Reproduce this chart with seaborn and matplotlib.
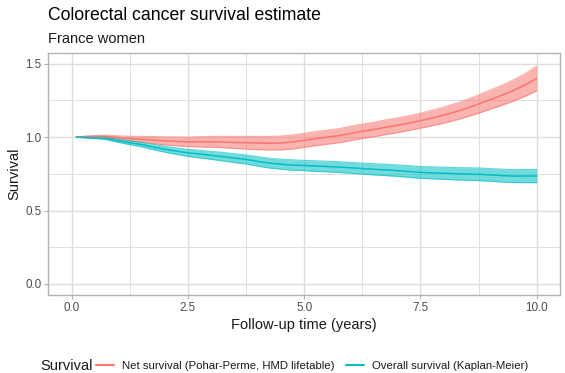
import matplotlib
matplotlib.use("Agg")
import matplotlib.pyplot as plt
from matplotlib.lines import Line2D
import seaborn as sns
import pandas as pd
import numpy as np

# ---- data ----
time = [0.1, 0.25, 0.5, 0.75, 1.0, 1.25, 1.5, 1.75, 2.0, 2.25, 2.5, 2.75, 3.0, 3.25,
        3.5, 3.75, 4.0, 4.25, 4.5, 4.75, 5.0, 5.25, 5.5, 5.75, 6.0, 6.25, 6.5, 6.75,
        7.0, 7.25, 7.5, 7.75, 8.0, 8.25, 8.5, 8.75, 9.0, 9.25, 9.5, 9.75, 10.0]

net_est = [1.000, 1.003, 1.005, 1.005, 0.997, 0.990, 0.985, 0.980, 0.975, 0.971, 0.968,
           0.968, 0.968, 0.967, 0.964, 0.962, 0.960, 0.959, 0.960, 0.967, 0.978, 0.990,
           1.000, 1.010, 1.025, 1.040, 1.052, 1.067, 1.080, 1.095, 1.112, 1.130, 1.150,
           1.172, 1.197, 1.225, 1.255, 1.285, 1.318, 1.355, 1.400]
net_lo = [1.000, 1.000, 0.999, 0.997, 0.985, 0.974, 0.965, 0.956, 0.948, 0.941, 0.936,
          0.933, 0.931, 0.928, 0.923, 0.919, 0.915, 0.913, 0.913, 0.919, 0.930, 0.942,
          0.952, 0.962, 0.976, 0.991, 1.003, 1.017, 1.030, 1.045, 1.061, 1.077, 1.095,
          1.115, 1.138, 1.163, 1.190, 1.217, 1.246, 1.278, 1.316]
net_hi = [1.000, 1.006, 1.011, 1.013, 1.009, 1.006, 1.005, 1.004, 1.002, 1.001, 1.000,
          1.003, 1.005, 1.006, 1.005, 1.005, 1.005, 1.005, 1.007, 1.015, 1.026, 1.038,
          1.048, 1.058, 1.074, 1.089, 1.101, 1.117, 1.130, 1.145, 1.163, 1.183, 1.205,
          1.229, 1.256, 1.287, 1.320, 1.353, 1.390, 1.432, 1.484]

os_est = [1.000, 0.998, 0.995, 0.990, 0.975, 0.962, 0.950, 0.933, 0.918, 0.905, 0.893,
          0.885, 0.876, 0.867, 0.857, 0.848, 0.835, 0.823, 0.816, 0.810, 0.807, 0.803,
          0.800, 0.796, 0.791, 0.786, 0.781, 0.777, 0.772, 0.766, 0.760, 0.757, 0.754,
          0.751, 0.749, 0.747, 0.743, 0.738, 0.735, 0.735, 0.735]
os_lo = [1.000, 0.996, 0.991, 0.983, 0.965, 0.949, 0.935, 0.915, 0.898, 0.883, 0.869,
         0.859, 0.849, 0.838, 0.827, 0.817, 0.803, 0.790, 0.782, 0.775, 0.772, 0.767,
         0.764, 0.759, 0.754, 0.748, 0.743, 0.738, 0.733, 0.726, 0.720, 0.716, 0.713,
         0.709, 0.707, 0.704, 0.700, 0.694, 0.691, 0.690, 0.690]
os_hi = [1.000, 1.000, 0.999, 0.997, 0.985, 0.975, 0.965, 0.951, 0.938, 0.927, 0.917,
         0.911, 0.903, 0.896, 0.887, 0.879, 0.867, 0.856, 0.850, 0.845, 0.842, 0.839,
         0.836, 0.833, 0.828, 0.824, 0.819, 0.816, 0.811, 0.806, 0.800, 0.798, 0.795,
         0.793, 0.791, 0.790, 0.786, 0.782, 0.779, 0.780, 0.780]

series_names = ["Net survival (Pohar-Perme, HMD lifetable)", "Overall survival (Kaplan-Meier)"]
colors = ["#F8766D", "#00BFC4"]

x_ticks = [0.0, 2.5, 5.0, 7.5, 10.0]
y_ticks = [0.0, 0.5, 1.0, 1.5]

df = pd.DataFrame({
    "time": time + time,
    "est": net_est + os_est,
    "lo": net_lo + os_lo,
    "hi": net_hi + os_hi,
    "Survival": [series_names[0]] * len(time) + [series_names[1]] * len(time),
})

# ---- figure ----
sns.set_theme(style="white")
plt.rcParams["font.family"] = ["Liberation Sans", "DejaVu Sans"]

fig = plt.figure(figsize=(5.65, 3.73), dpi=100)
ax = fig.add_axes([48.3 / 565, 1 - 295 / 373, (560 - 48.3) / 565, (295 - 52.7) / 373])

# grid
grid_c = "#DEDEDE"
for v in [1.25, 3.75, 6.25, 8.75]:
    ax.axvline(v, color=grid_c, lw=0.7, zorder=0)
for v in [0.25, 0.75, 1.25]:
    ax.axhline(v, color=grid_c, lw=0.7, zorder=0)
for v in x_ticks:
    ax.axvline(v, color=grid_c, lw=1.0, zorder=0)
for v in y_ticks:
    ax.axhline(v, color=grid_c, lw=1.0, zorder=0)

for name, c in zip(series_names, colors):
    sub = df[df["Survival"] == name]
    ax.fill_between(sub["time"], sub["lo"], sub["hi"],
                    color=c, alpha=0.55, lw=0, zorder=2)
    ax.plot(sub["time"], sub["lo"], color=c, lw=0.8, alpha=0.6, zorder=2)
    ax.plot(sub["time"], sub["hi"], color=c, lw=0.8, alpha=0.6, zorder=2)

sns.lineplot(data=df, x="time", y="est", hue="Survival", palette=colors,
             hue_order=series_names, lw=1.1,
             ax=ax, legend=False, zorder=3, estimator=None)

ax.set_xlim(-0.5, 10.5)
ax.set_ylim(-0.075, 1.575)
ax.set_xticks(x_ticks)
ax.set_xticklabels([f"{v:.1f}" for v in x_ticks])
ax.set_yticks(y_ticks)
ax.set_yticklabels([f"{v:.1f}" for v in y_ticks])
ax.tick_params(axis="both", length=3, width=0.8, color="#B3B3B3",
               labelsize=8.4, labelcolor="#4D4D4D", pad=2, bottom=True, left=True)
for s in ax.spines.values():
    s.set_color("#B3B3B3")
    s.set_linewidth(1.0)

ax.set_xlabel("Follow-up time (years)", fontsize=10.5, color="#1A1A1A", labelpad=3)
ax.set_ylabel("Survival", fontsize=10.5, color="#1A1A1A", labelpad=3)

fig.text(48.3 / 565, 1 - 16 / 373, "Colorectal cancer survival estimate",
         fontsize=12.7, color="#000000", ha="left", va="center")
fig.text(48.3 / 565, 1 - 39 / 373, "France women",
         fontsize=10.5, color="#1A1A1A", ha="left", va="center")

# legend
fig.text(40 / 565, 1 - 366 / 373, "Survival", fontsize=10.5, color="#1A1A1A",
         ha="left", va="center")
handles = [Line2D([0], [0], color=c, lw=1.5) for c in colors]
leg = fig.legend(handles, series_names, ncol=2, loc="center left",
                 bbox_to_anchor=(96 / 565, 1 - 366 / 373), frameon=False,
                 fontsize=8.2, handlelength=1.6, handletextpad=0.7,
                 columnspacing=1.0, borderaxespad=0, borderpad=0)
for t in leg.get_texts():
    t.set_color("#1A1A1A")

fig.savefig("out.png", dpi=100)
